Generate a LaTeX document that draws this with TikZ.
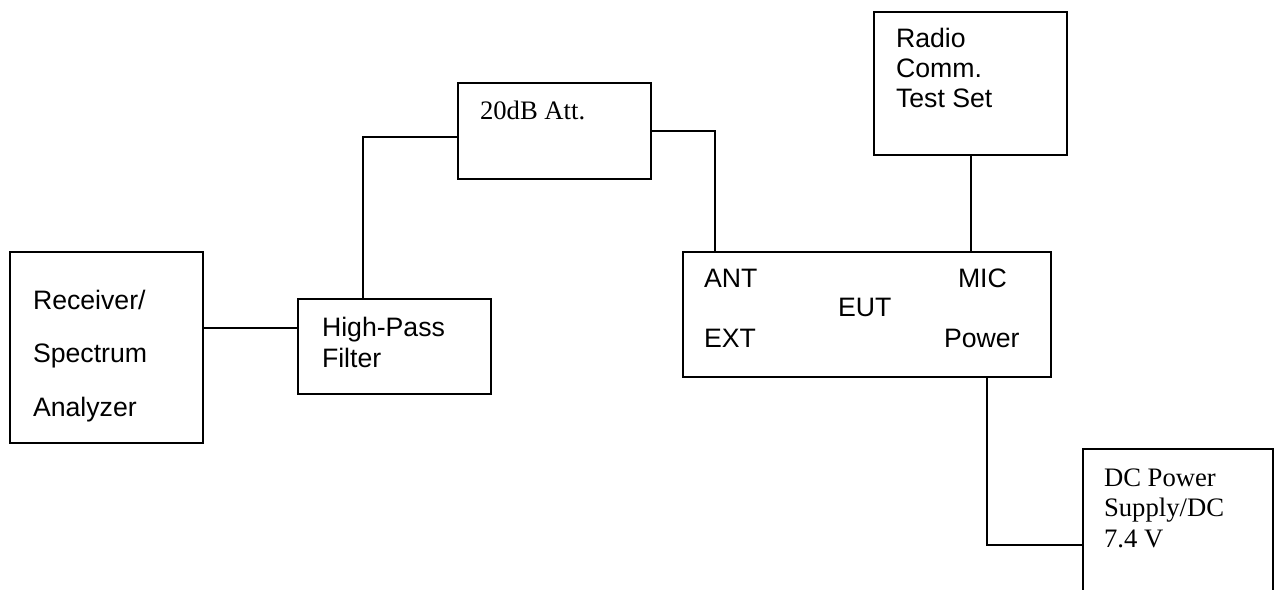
\documentclass[tikz,border=0pt]{standalone}
\usepackage{fontspec}
\setmainfont{Liberation Serif}
\newfontfamily\arialfont{Liberation Sans}
\tikzset{
  unit/.style={draw, line width=0.9pt, inner sep=0pt, outer sep=0pt, anchor=north west},
  slbl/.style={inner sep=0pt, anchor=base west, font=\arialfont\fontsize{12}{14}\selectfont},
  rlbl/.style={inner sep=0pt, anchor=base west, font=\fontsize{12}{14}\selectfont},
}
\begin{document}
\begin{tikzpicture}[x=0.45pt,y=0.45pt,yscale=-1,xscale=1,line width=0.9pt]
  \clip (0,0) rectangle (1276,589);
  % boxes
  \node (rx) [unit, minimum width=86.85pt, minimum height=85.95pt] at (10,252) {};
  \node (hpf) [unit, minimum width=86.85pt, minimum height=42.75pt] at (298,299) {};
  \node (att) [unit, minimum width=86.85pt, minimum height=43.2pt] at (458,83) {};
  \node (tst) [unit, minimum width=86.85pt, minimum height=64.35pt] at (874,12) {};
  \node (eut) [unit, minimum width=165.6pt, minimum height=56.25pt] at (683,252) {};
  \node (dc) [unit, minimum width=85.5pt, minimum height=80pt] at (1083,449) {};
  % texts
  \node (rx1) [slbl] at (32,309) {Receiver/};
  \node (rx2) [slbl] at (32,362) {Spectrum};
  \node (rx3) [slbl] at (32,416) {Analyzer};
  \node (hpf1) [slbl] at (321,336) {High-Pass};
  \node (hpf2) [slbl] at (321,367) {Filter};
  \node (att1) [rlbl] at (479,119) {20dB Att.};
  \node (tst1) [slbl] at (895,47) {Radio};
  \node (tst2) [slbl] at (895,77) {Comm.};
  \node (tst3) [slbl] at (895,107) {Test Set};
  \node (ant) [slbl] at (703,287) {ANT};
  \node (mic) [slbl] at (957,287) {MIC};
  \node (eut1) [slbl] at (837,316) {EUT};
  \node (ext) [slbl] at (703,347) {EXT};
  \node (pwr) [slbl] at (943,347) {Power};
  \node (dc1) [rlbl] at (1103,486) {DC Power};
  \node (dc2) [rlbl] at (1103,516) {Supply/DC};
  \node (dc3) [rlbl] at (1103,547) {7.4 V};
  % cables
  \draw (rx.east |- 0,328) -- (hpf.west |- 0,328);
  \draw (hpf.north -| 363,0) |- (att.west |- 0,137);
  \draw (att.east |- 0,131) -| (eut.north -| 715,0);
  \draw (tst.south -| 971,0) -- (eut.north -| 971,0);
  \draw (eut.south -| 987,0) |- (dc.west |- 0,545);
\end{tikzpicture}
\end{document}
